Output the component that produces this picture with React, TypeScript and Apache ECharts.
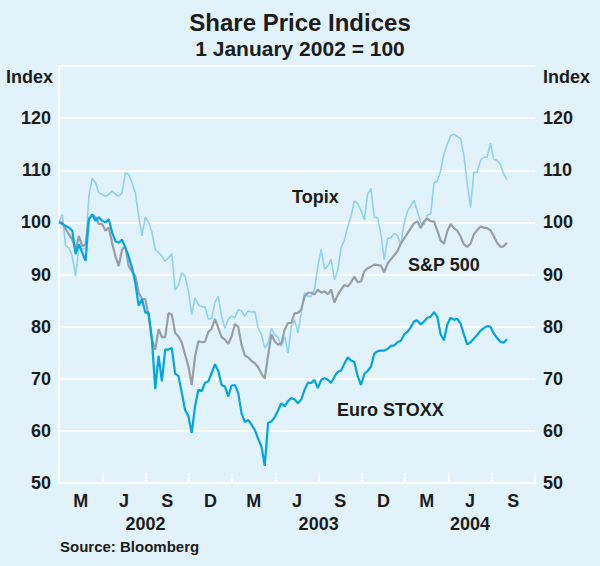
import React, { useEffect, useRef } from "react";
import * as echarts from "echarts";

const weeks = [
  "2002-01-01","2002-01-08","2002-01-15","2002-01-22","2002-01-29","2002-02-05","2002-02-12","2002-02-19","2002-02-26",
  "2002-03-05","2002-03-12","2002-03-19","2002-03-26","2002-04-02","2002-04-09","2002-04-16","2002-04-23","2002-04-30",
  "2002-05-07","2002-05-14","2002-05-21","2002-05-28","2002-06-04","2002-06-11","2002-06-18","2002-06-25","2002-07-02",
  "2002-07-09","2002-07-16","2002-07-23","2002-07-30","2002-08-06","2002-08-13","2002-08-20","2002-08-27","2002-09-03",
  "2002-09-10","2002-09-17","2002-09-24","2002-10-01","2002-10-08","2002-10-15","2002-10-22","2002-10-29","2002-11-05",
  "2002-11-12","2002-11-19","2002-11-26","2002-12-03","2002-12-10","2002-12-17","2002-12-24","2002-12-31","2003-01-07",
  "2003-01-14","2003-01-21","2003-01-28","2003-02-04","2003-02-11","2003-02-18","2003-02-25","2003-03-04","2003-03-11",
  "2003-03-18","2003-03-25","2003-04-01","2003-04-08","2003-04-15","2003-04-22","2003-04-29","2003-05-06","2003-05-13",
  "2003-05-20","2003-05-27","2003-06-03","2003-06-10","2003-06-17","2003-06-24","2003-07-01","2003-07-08","2003-07-15",
  "2003-07-22","2003-07-29","2003-08-05","2003-08-12","2003-08-19","2003-08-26","2003-09-02","2003-09-09","2003-09-16",
  "2003-09-23","2003-09-30","2003-10-07","2003-10-14","2003-10-21","2003-10-28","2003-11-04","2003-11-11","2003-11-18",
  "2003-11-25","2003-12-02","2003-12-09","2003-12-16","2003-12-23","2003-12-30","2004-01-06","2004-01-13","2004-01-20",
  "2004-01-27","2004-02-03","2004-02-10","2004-02-17","2004-02-24","2004-03-02","2004-03-09","2004-03-16","2004-03-23",
  "2004-03-30","2004-04-06","2004-04-13","2004-04-20","2004-04-27","2004-05-04","2004-05-11","2004-05-18","2004-05-25",
  "2004-06-01","2004-06-08","2004-06-15","2004-06-22","2004-06-29","2004-07-06","2004-07-13","2004-07-20","2004-07-27",
  "2004-08-03"
];

const topix = [
  100, 101.5, 95.5, 95.1, 93.5, 89.7, 95.4, 94.8, 95.1, 105.0, 108.5, 107.6, 105.7, 105.4, 105.0, 105.4, 106.0, 105.4,
  105.0, 105.7, 109.5, 109.2, 107.6, 105.7, 101.2, 97.4, 101.0, 100.0, 98.1, 94.8, 94.2, 93.5, 92.5, 93.2, 94.0, 87.0,
  88.0, 90.3, 89.7, 86.8, 82.3, 85.5, 84.2, 83.8, 83.8, 81.4, 81.6, 84.7, 85.8, 81.9, 79.7, 81.4, 82.0, 81.7,
  83.3, 83.0, 82.0, 83.0, 82.8, 82.9, 79.7, 78.5, 75.9, 76.8, 79.7, 78.4, 78.0, 76.2, 78.1, 74.9, 80.0, 81.3,
  78.8, 82.6, 86.5, 85.8, 85.8, 87.1, 91.6, 94.8, 91.0, 91.6, 92.9, 89.0, 90.8, 95.1, 96.6, 99.2, 101.2, 104.1,
  103.6, 102.3, 100.5, 105.4, 106.5, 101.0, 100.9, 97.7, 92.8, 96.9, 97.0, 97.9, 97.5, 95.7, 99.9, 102.1, 103.2, 104.2,
  102.1, 99.9, 99.6, 101.4, 101.6, 107.6, 107.9, 109.9, 113.1, 115.0, 116.6, 116.9, 116.5, 116.1, 112.8, 107.6, 102.8, 109.6,
  109.6, 111.9, 112.5, 112.5, 115.2, 112.1, 111.9, 111.1, 109.3, 108.2
];

const sp500 = [
  100, 100.0, 98.7, 97.7, 96.7, 94.8, 97.4, 95.4, 95.8, 100.6, 101.5, 101.0, 99.7, 99.7, 98.4, 99.0, 96.1, 93.5,
  91.6, 94.8, 95.4, 91.6, 90.6, 89.7, 86.5, 85.3, 85.3, 82.1, 77.5, 75.6, 79.5, 78.0, 78.0, 82.6, 82.3, 78.8,
  78.1, 76.9, 74.6, 72.4, 68.8, 74.3, 77.2, 77.0, 77.1, 79.0, 79.6, 81.5, 79.7, 78.0, 77.5, 76.7, 78.1, 80.5,
  80.0, 76.5, 74.5, 74.1, 73.4, 73.0, 72.2, 71.0, 70.0, 74.5, 78.5, 77.2, 76.5, 76.8, 79.4, 80.7, 80.7, 82.6,
  82.6, 83.3, 85.8, 86.5, 86.5, 86.2, 87.1, 86.5, 86.8, 86.2, 87.1, 84.6, 86.1, 87.1, 88.0, 87.7, 88.5, 89.6,
  88.5, 88.7, 90.6, 91.2, 91.5, 91.9, 91.8, 91.7, 90.4, 92.1, 92.9, 93.7, 94.5, 95.9, 96.9, 97.9, 98.9, 99.8,
  100.2, 98.9, 100.2, 100.7, 100.2, 100.2, 98.4, 96.5, 95.9, 98.3, 99.7, 98.9, 98.4, 97.3, 95.8, 95.3, 95.9, 97.7,
  98.5, 99.2, 99.0, 98.9, 98.5, 97.4, 96.1, 95.3, 95.4, 96.1
];

const euroStoxx = [
  100, 99.7, 99.3, 99.0, 98.4, 93.9, 95.8, 94.2, 92.6, 100.6, 101.5, 100.3, 101.0, 100.3, 100.0, 100.6, 98.1, 96.4,
  96.1, 96.7, 95.1, 93.5, 91.3, 88.4, 84.0, 85.3, 82.7, 82.7, 77.5, 68.0, 74.4, 69.5, 75.6, 75.6, 75.9, 71.0,
  70.5, 67.3, 64.0, 62.8, 59.6, 64.7, 67.9, 67.6, 69.2, 69.5, 71.1, 72.8, 71.5, 68.8, 68.5, 66.6, 68.7, 68.8,
  67.3, 63.4, 61.7, 62.1, 61.2, 60.2, 58.5, 57.0, 53.3, 61.5, 61.8, 62.6, 63.9, 65.3, 64.7, 65.7, 66.3, 66.0,
  65.3, 66.0, 67.9, 69.2, 69.2, 69.8, 68.2, 69.8, 70.1, 69.8, 69.2, 70.4, 71.3, 71.6, 72.9, 74.1, 73.5, 73.2,
  70.5, 68.8, 70.9, 71.5, 72.3, 74.8, 75.3, 75.4, 75.4, 75.7, 76.3, 76.4, 77.0, 77.3, 78.5, 79.0, 79.9, 81.0,
  81.2, 80.4, 81.0, 81.7, 81.9, 82.8, 81.9, 78.5, 77.4, 80.4, 81.7, 81.3, 81.5, 80.6, 78.5, 76.6, 77.0, 77.7,
  78.4, 79.2, 79.7, 80.1, 80.0, 78.7, 77.8, 77.1, 76.9, 77.6
];

const quarterLabels = ["M", "J", "S", "D", "M", "J", "S", "D", "M", "J", "S"];
const yearLabels = ["2002", "2003", "2004"];
const yTicks = { min: 50, max: 130, interval: 10 };
const axisStart = "2002-01-01";
const axisEnd = "2004-10-01";
const totalMonths = 33;

const FONT = "'Liberation Sans', Arial, Helvetica, sans-serif";
const TEXT = "#1c1c1c";
const BG = "#E1F2FB";

export default function App() {
  const ref = useRef<HTMLDivElement>(null);

  useEffect(() => {
    document.body.style.margin = "0";
    if (!ref.current) return;
    const chart = echarts.init(ref.current, undefined, { renderer: "svg" });

    const pair = (vals: number[]) => weeks.map((d, i) => [d, vals[i]]);

    const yearCenters = yearLabels.map((_, i) => {
      const s = 12 * i;
      const e = Math.min(12 * (i + 1), totalMonths);
      return (s + e) / 2;
    });

    const near = (a: number, b: number) => Math.abs(a - b) < 1e-6;

    const labelStyle = {
      fontSize: 18,
      fontWeight: "bold",
      color: TEXT,
      fontFamily: FONT,
    };

    const yAxisBase = {
      type: "value",
      min: yTicks.min,
      max: yTicks.max,
      interval: yTicks.interval,
      axisLine: { show: true, lineStyle: { color: "#ffffff", width: 2 } },
      axisTick: { show: false },
    };
    const yFormatter = (v: number) => (v === yTicks.max ? "" : String(v));

    chart.setOption({
      animation: false,
      backgroundColor: BG,
      textStyle: { fontFamily: FONT },
      title: [
        {
          text: "Share Price Indices",
          left: "center",
          top: 10,
          padding: 0,
          textStyle: { fontSize: 24, fontWeight: "bold", color: TEXT, fontFamily: FONT },
        },
        {
          text: "1 January 2002 = 100",
          left: "center",
          top: 38,
          padding: 0,
          textStyle: { fontSize: 21, fontWeight: "bold", color: TEXT, fontFamily: FONT },
        },
      ],
      grid: { left: 59, right: 65, top: 66, bottom: 83, containLabel: false },
      xAxis: [
        { type: "time", min: axisStart, max: axisEnd, show: false },
        {
          type: "value",
          min: 0,
          max: totalMonths,
          interval: 3,
          position: "bottom",
          axisLine: { show: true, lineStyle: { color: "#ffffff", width: 2 } },
          axisTick: { show: true, inside: true, length: 10, lineStyle: { color: "#ffffff", width: 2 } },
          axisLabel: { show: false },
          splitLine: { show: false },
        },
        {
          type: "value",
          min: 0,
          max: totalMonths,
          interval: 1.5,
          position: "bottom",
          axisLine: { show: false },
          axisTick: { show: false },
          splitLine: { show: false },
          axisLabel: {
            ...labelStyle,
            margin: 9,
            formatter: (v: number) => {
              const idx = Math.round((v - 1.5) / 3);
              if (idx >= 0 && idx < quarterLabels.length && near(v, 1.5 + 3 * idx)) return quarterLabels[idx];
              return "";
            },
          },
        },
        {
          type: "value",
          min: 0,
          max: totalMonths,
          interval: 0.5,
          position: "bottom",
          axisLine: { show: false },
          axisTick: { show: false },
          splitLine: { show: false },
          axisLabel: {
            ...labelStyle,
            margin: 32,
            formatter: (v: number) => {
              const i = yearCenters.findIndex((c) => near(c, v));
              return i >= 0 ? yearLabels[i] : "";
            },
          },
        },
      ],
      yAxis: [
        {
          ...yAxisBase,
          position: "left",
          splitLine: { show: true, lineStyle: { color: "#ffffff", width: 2 } },
          axisLabel: { ...labelStyle, margin: 8, formatter: yFormatter },
        },
        {
          ...yAxisBase,
          position: "right",
          splitLine: { show: false },
          axisLabel: { ...labelStyle, margin: 8, formatter: yFormatter },
        },
      ],
      series: [
        {
          name: "Topix",
          type: "line",
          xAxisIndex: 0,
          yAxisIndex: 0,
          data: pair(topix),
          showSymbol: false,
          lineStyle: { color: "#8DD2F3", width: 1.6 },
        },
        {
          name: "S&P 500",
          type: "line",
          xAxisIndex: 0,
          yAxisIndex: 0,
          data: pair(sp500),
          showSymbol: false,
          lineStyle: { color: "#999EA2", width: 2.2 },
        },
        {
          name: "Euro STOXX",
          type: "line",
          xAxisIndex: 0,
          yAxisIndex: 0,
          data: pair(euroStoxx),
          showSymbol: false,
          lineStyle: { color: "#00A5E5", width: 2.2 },
        },
      ],
      graphic: [
        {
          type: "text", left: 6, top: 68,
          style: { text: "Index", font: `bold 18px ${FONT}`, fill: TEXT },
        },
        {
          type: "text", left: 543, top: 68,
          style: { text: "Index", font: `bold 18px ${FONT}`, fill: TEXT },
        },
        {
          type: "text", left: 292, top: 188,
          style: { text: "Topix", font: `bold 18px ${FONT}`, fill: TEXT },
        },
        {
          type: "text", left: 408, top: 256,
          style: { text: "S&P 500", font: `bold 18px ${FONT}`, fill: TEXT },
        },
        {
          type: "text", left: 337, top: 401,
          style: { text: "Euro STOXX", font: `bold 18px ${FONT}`, fill: TEXT },
        },
        {
          type: "text", left: 60, top: 539,
          style: { text: "Source: Bloomberg", font: `bold 15px ${FONT}`, fill: TEXT },
        },
      ],
    });

    return () => chart.dispose();
  }, []);

  return <div ref={ref} style={{ width: 600, height: 566 }} />;
}
